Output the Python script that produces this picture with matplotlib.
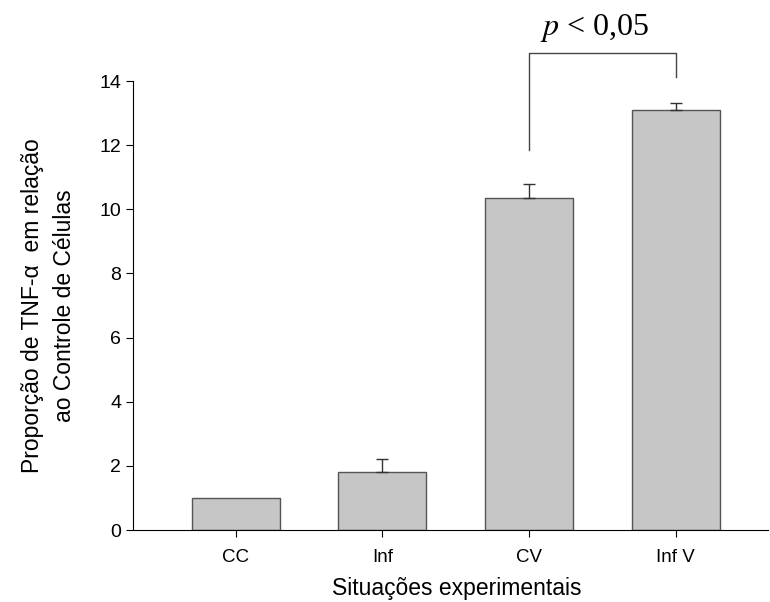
import numpy as np
import matplotlib.pyplot as plt

# Data
categories = ['CC', 'Inf', 'CV', 'Inf V']
values = [1.0, 1.8, 10.35, 13.1]
errors = [0.0, 0.42, 0.45, 0.22]
yticks = [0, 2, 4, 6, 8, 10, 12, 14]

plt.rcParams['font.family'] = ['Liberation Sans', 'DejaVu Sans']

fig = plt.figure(figsize=(7.7, 6.02), dpi=100)
ax = fig.add_axes([0.1727, 0.1196, 0.825, 0.7458])

x = np.arange(len(categories))
ax.bar(x, values, width=0.6, color='#c6c6c6', edgecolor='#555555', linewidth=1.0)
# only bars with a visible SEM get an error bar
has_err = [i for i, e in enumerate(errors) if e > 0]
ax.errorbar(x[has_err], [values[i] for i in has_err],
            yerr=[np.zeros(len(has_err)), [errors[i] for i in has_err]],
            fmt='none', ecolor='#333333', elinewidth=1.0, capsize=4.5, capthick=1.0)

ax.set_xlim(-0.7, 3.63)
ax.set_ylim(0, 14)
ax.set_yticks(yticks)
ax.set_xticks(x)
ax.set_xticklabels(categories, fontsize=13.5)
ax.tick_params(axis='y', labelsize=14, length=5, direction='out')
ax.tick_params(axis='x', length=5, direction='out', pad=9)
for s in ['top', 'right']:
    ax.spines[s].set_visible(False)

ax.set_xlabel('Situações experimentais', fontsize=16.5)
ax.xaxis.set_label_coords(0.51, -0.105)
ax.set_ylabel('Proporção de TNF-α  em relação\nao Controle de Células',
              fontsize=16.5, linespacing=1.5)
ax.yaxis.set_label_coords(-0.09, 0.5)

# significance bracket between CV and Inf V
ax.plot([2, 2, 3, 3], [11.85, 14.87, 14.87, 14.13], color='#444444',
        linewidth=1.0, clip_on=False)
ax.text(2.45, 15.15, '$p$ < 0,05', ha='center', va='bottom', fontsize=23,
        family=['Liberation Serif', 'DejaVu Serif'],
        math_fontfamily='stix')

fig.savefig('out.png', dpi=100)
